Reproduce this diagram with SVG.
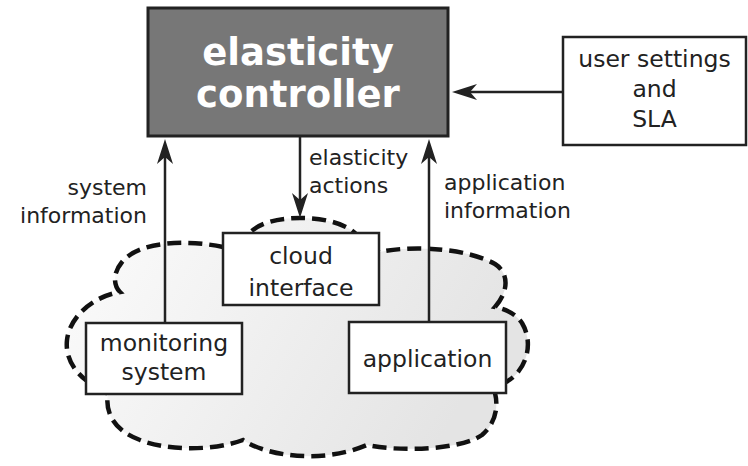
<svg xmlns="http://www.w3.org/2000/svg" width="748" height="466" viewBox="0 0 748 466">
<style>
.box{fill:#fff;stroke:#222;stroke-width:2.5}
.t{font-family:"DejaVu Sans",sans-serif;font-size:23.5px;fill:#222;text-anchor:middle}
.lbl{font-family:"DejaVu Sans",sans-serif;font-size:22px;fill:#222}
.conn{stroke:#222;stroke-width:2.5;fill:none;marker-end:url(#ah)}
</style>
<defs>
<marker id="ah" markerUnits="userSpaceOnUse" viewBox="-26 -9 28 18" markerWidth="28" markerHeight="18" refX="-14" refY="0" orient="auto">
<path d="M0,0 L-25,-8 L-18,0 L-25,8 Z" fill="#222"/>
</marker>
<linearGradient id="cg" x1="0" y1="0" x2="1" y2="0.3">
<stop offset="0" stop-color="#fcfcfc"/>
<stop offset="1" stop-color="#e4e4e4"/>
</linearGradient>
</defs>
<g id="cloud">
<path d="M223 247 C190 240,140 240,122 262 C112 274,114 286,120 292 C95 296,70 315,67 340 C65 358,75 372,87 381 L108 394 C105 410,112 430,140 440 C165 450,210 452,243 440 C265 455,320 465,367 445 C400 452,460 450,482 435 C497 422,498 405,495 393 L506 382 C525 372,535 345,522 323 C515 313,505 309,495 307 C510 290,508 272,495 264 C470 250,420 244,379 252 L357 235 C345 222,320 218,300 218 C280 218,258 222,248 235 Z" fill="url(#cg)" stroke="#111" stroke-width="4.5" stroke-dasharray="14 7"/>
</g>
<g id="connectors">
<line class="conn" x1="563" y1="92" x2="466" y2="92"/>
<line class="conn" x1="165" y1="323" x2="165" y2="153"/>
<line class="conn" x1="429" y1="322" x2="429" y2="153"/>
<line class="conn" x1="300" y1="137" x2="300" y2="204"/>
<text class="lbl" x="147" y="195" text-anchor="end">system</text>
<text class="lbl" x="147" y="223" text-anchor="end">information</text>
<text class="lbl" x="309" y="165">elasticity</text>
<text class="lbl" x="309" y="193">actions</text>
<text class="lbl" x="444" y="190">application</text>
<text class="lbl" x="444" y="218">information</text>
</g>
<g id="controller">
<rect x="148" y="8" width="300" height="128" fill="#777" stroke="#222" stroke-width="3"/>
<text x="298" y="65" font-family="DejaVu Sans,sans-serif" font-weight="bold" font-size="37" fill="#fff" text-anchor="middle">elasticity</text>
<text x="298" y="107" font-family="DejaVu Sans,sans-serif" font-weight="bold" font-size="37" fill="#fff" text-anchor="middle">controller</text>
</g>
<g id="user-settings">
<rect class="box" x="563" y="37" width="183" height="108"/>
<text class="t" x="654.5" y="67">user settings</text>
<text class="t" x="654.5" y="97">and</text>
<text class="t" x="654.5" y="127">SLA</text>
</g>
<g id="cloud-interface">
<rect class="box" x="223" y="233" width="156" height="72"/>
<text class="t" x="301" y="264">cloud</text>
<text class="t" x="301" y="296">interface</text>
</g>
<g id="monitoring-system">
<rect class="box" x="86" y="323" width="156" height="71"/>
<text class="t" x="164" y="351">monitoring</text>
<text class="t" x="164" y="380">system</text>
</g>
<g id="application">
<rect class="box" x="349" y="322" width="157" height="71"/>
<text class="t" x="427.5" y="367">application</text>
</g>
</svg>
